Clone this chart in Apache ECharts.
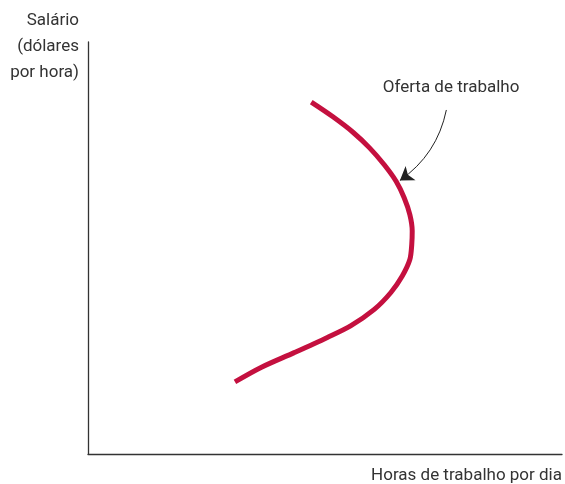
<!DOCTYPE html>
<html>
<head>
    <meta charset="utf-8">
    <title>Oferta de trabalho</title>
    <script type="text/javascript" src="https://cdn.jsdelivr.net/npm/echarts@6/dist/echarts.min.js"></script>
    <style>
        html, body { margin: 0; padding: 0; background: #fff; }
    </style>
</head>
<body>
<div id="chart" style="width:565px;height:484px;"></div>
<script type="text/javascript">
    // curva de oferta de trabalho (horas, salario) - escala relativa 0..100
    var horas   = [31.0, 36.5, 43.5, 50.5, 55.4, 60.4, 63.9, 66.3, 67.9, 68.3, 68.4, 67.9, 66.7, 65.0, 62.5, 59.4, 55.9, 51.6, 47.1];
    var salario = [17.5, 21.0, 24.6, 28.3, 31.1, 35.1, 39.2, 43.2, 47.2, 50.8, 54.1, 58.1, 62.2, 66.2, 70.2, 74.3, 78.1, 81.9, 85.4];
    var rotuloCurva = 'Oferta de trabalho';
    var posRotulo = [76.6, 88.9];
    var rotuloX = 'Horas de trabalho por dia';
    var rotuloY = 'Salário\n(dólares\npor hora)';
    // seta: do rotulo ate a curva
    var setaInicio = [75.6, 83.5];
    var setaFim = [65.8, 66.4];

    var fonte = 'Roboto, sans-serif';
    var pontos = [];
    for (var i = 0; i < horas.length; i++) {
        pontos.push([horas[i], salario[i]]);
    }

    var myChart = echarts.init(document.getElementById('chart'));
    var option = {
        animation: false,
        grid: { left: 88, right: 2, top: 42, bottom: 29 },
        xAxis: {
            type: 'value', min: 0, max: 100,
            axisLine: { lineStyle: { color: '#333', width: 1.3 } },
            axisTick: { show: false }, axisLabel: { show: false }, splitLine: { show: false },
            name: rotuloX, nameLocation: 'end', nameGap: 0,
            nameTextStyle: { fontFamily: fonte, fontSize: 17, color: '#333', align: 'right', verticalAlign: 'top', padding: [13, 0, 0, 0] }
        },
        yAxis: {
            type: 'value', min: 0, max: 100,
            axisLine: { lineStyle: { color: '#333', width: 1.3 } },
            axisTick: { show: false }, axisLabel: { show: false }, splitLine: { show: false },
            name: rotuloY, nameLocation: 'end', nameGap: 34,
            nameTextStyle: { fontFamily: fonte, fontSize: 17, color: '#333', align: 'right', verticalAlign: 'top', lineHeight: 26, padding: [0, 9, 0, 0] }
        },
        series: [{
            type: 'line',
            data: pontos,
            smooth: 0.3,
            symbol: 'none',
            lineStyle: { color: '#c4103f', width: 5, cap: 'butt' },
            markPoint: {
                silent: true,
                symbol: 'circle',
                symbolSize: 1,
                itemStyle: { color: 'rgba(0,0,0,0)' },
                label: { show: true, position: 'inside', formatter: rotuloCurva, fontFamily: fonte, fontSize: 17, color: '#333' },
                data: [{ coord: posRotulo }]
            }
        }, {
            type: 'lines',
            coordinateSystem: 'cartesian2d',
            silent: true,
            symbol: ['none', 'arrow'],
            symbolSize: [8, 13],
            lineStyle: { color: '#222', width: 1, opacity: 1, curveness: 0.2 },
            data: [{ coords: [setaInicio, setaFim] }]
        }]
    };
    myChart.setOption(option);
</script>
</body>
</html>
